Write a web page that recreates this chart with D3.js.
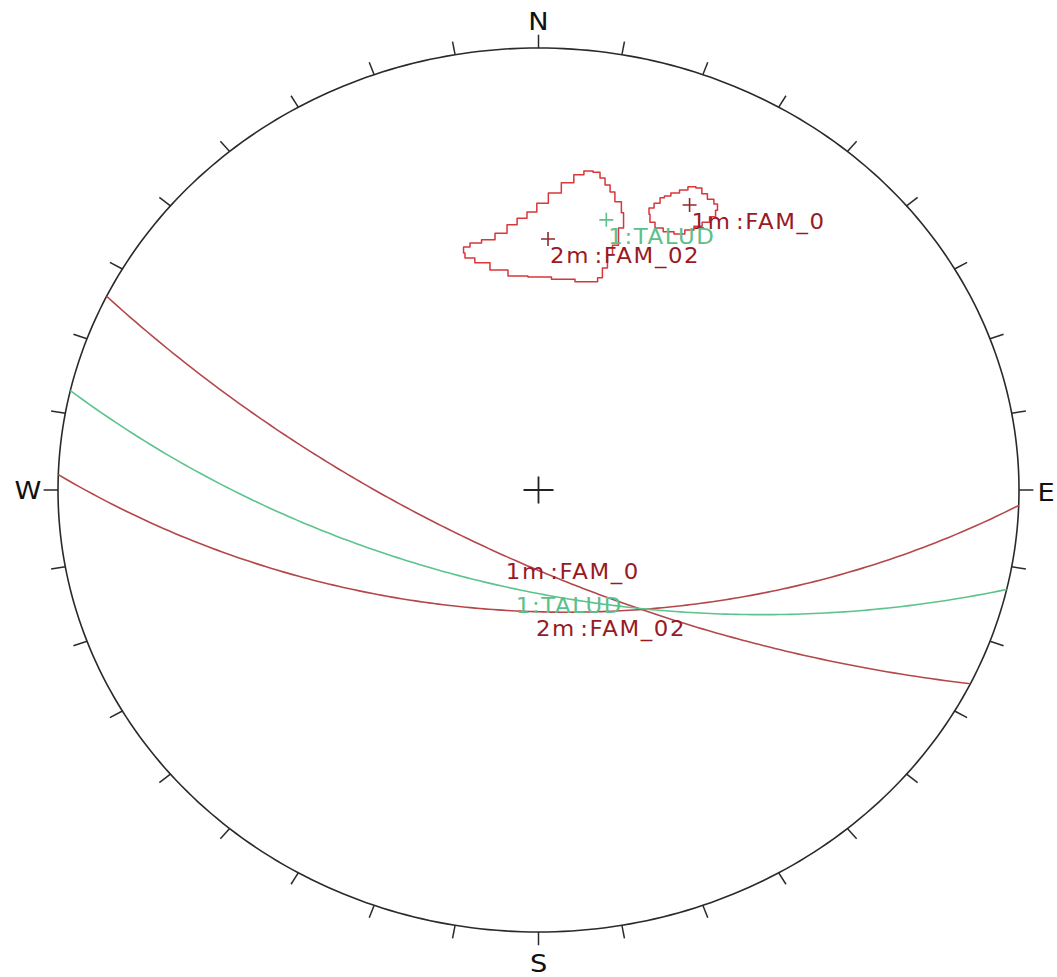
<!DOCTYPE html>
<html>
<head>
<meta charset="utf-8">
<script src="https://cdn.jsdelivr.net/npm/d3@7"></script>
<style>
  html, body { margin: 0; padding: 0; background: #fff; }
  svg { display: block; font-family: Verdana, "DejaVu Sans", sans-serif; }
</style>
</head>
<body>
<svg id="net" width="1057" height="977"></svg>
<script>
// Planes (dip direction / dip, degrees) plotted on a lower-hemisphere equal-angle net
const planeNames = ["1m:FAM_0", "2m:FAM_02", "1:TALUD"];
const planeDipDirections = [206, 182, 193];
const planeDips = [71.3, 59.2, 64.2];
const planeKinds = ["set", "set", "slope"];

// Density contours around the pole clusters, in projected net coordinates [x (E), y (N)]
const contourFam02 = [
  [0.103, 0.722], [0.124, 0.719], [0.132, 0.706], [0.145, 0.690], [0.153, 0.674],
  [0.165, 0.652], [0.180, 0.627], [0.174, 0.593], [0.159, 0.554], [0.149, 0.532],
  [0.138, 0.502], [0.128, 0.480], [0.118, 0.471], [0.097, 0.471], [0.055, 0.477],
  [-0.001, 0.482], [-0.043, 0.484], [-0.084, 0.498], [-0.118, 0.514], [-0.147, 0.525],
  [-0.159, 0.536], [-0.153, 0.550], [-0.132, 0.559], [-0.105, 0.566], [-0.076, 0.581],
  [-0.055, 0.600], [-0.034, 0.615], [-0.014, 0.629], [0.007, 0.649], [0.034, 0.672],
  [0.061, 0.695], [0.086, 0.713]
];
const contourFam0 = [
  [0.232, 0.638], [0.249, 0.649], [0.257, 0.661], [0.267, 0.665], [0.284, 0.672],
  [0.303, 0.679], [0.319, 0.686], [0.336, 0.683], [0.344, 0.670], [0.359, 0.658],
  [0.371, 0.647], [0.374, 0.633], [0.363, 0.618], [0.349, 0.606], [0.332, 0.597],
  [0.315, 0.588], [0.294, 0.579], [0.270, 0.584], [0.249, 0.593], [0.236, 0.606],
  [0.228, 0.624]
];

// Rim compass labels and tick interval
const cardinalLabels = ["N", "E", "S", "W"];
const cardinalAzimuths = [0, 90, 180, 270];
const tickAzimuths = d3.range(0, 360, 10);

const svg = d3.select("#net");
const cx = 538.5, cy = 490, rx = 480.5, ry = 442;
const sx = rx / ry;                       // horizontal stretch of the net
const x = d3.scaleLinear().domain([-1, 1]).range([cx - rx, cx + rx]);
const y = d3.scaleLinear().domain([-1, 1]).range([cy + ry, cy - ry]);

const rad = Math.PI / 180;
const colors = {
  set: { line: "#b4474a", text: "#981b24", pole: "#8e2a2e" },
  slope: { line: "#5cc38b", text: "#5cc08c", pole: "#5cc08c" }
};

// lower-hemisphere stereographic projection of a unit vector (E, N, Up)
function project(v) {
  const d = 1 - v[2];
  return [v[0] / d, v[1] / d];
}

function greatCircle(dd, dip) {
  const s = [Math.sin((dd - 90) * rad), Math.cos((dd - 90) * rad), 0];
  const dv = [Math.sin(dd * rad) * Math.cos(dip * rad), Math.cos(dd * rad) * Math.cos(dip * rad), -Math.sin(dip * rad)];
  return d3.range(0, 180.5, 1).map(t => {
    const c = Math.cos(t * rad), sn = Math.sin(t * rad);
    return project([c * s[0] + sn * dv[0], c * s[1] + sn * dv[1], c * s[2] + sn * dv[2]]);
  });
}
function dipPoint(dd, dip) {
  return project([Math.sin(dd * rad) * Math.cos(dip * rad), Math.cos(dd * rad) * Math.cos(dip * rad), -Math.sin(dip * rad)]);
}
function pole(dd, dip) {
  const t = (dd + 180) * rad;
  return project([Math.sin(t) * Math.sin(dip * rad), Math.cos(t) * Math.sin(dip * rad), -Math.cos(dip * rad)]);
}

const line = d3.line().x(d => x(d[0])).y(d => y(d[1]));

// primitive circle
svg.append("path")
  .attr("d", d3.line().x(d => x(d[0])).y(d => y(d[1])).curve(d3.curveLinearClosed)(
    d3.range(0, 360, 1).map(a => [Math.sin(a * rad), Math.cos(a * rad)])))
  .attr("fill", "none").attr("stroke", "#2a2a2a").attr("stroke-width", 1.6);

// ticks every 10 degrees
svg.append("g").selectAll("line").data(tickAzimuths).join("line")
  .attr("x1", a => x(Math.sin(a * rad)))
  .attr("y1", a => y(Math.cos(a * rad)))
  .attr("x2", a => x(1.03 * Math.sin(a * rad)))
  .attr("y2", a => y(1.03 * Math.cos(a * rad)))
  .attr("stroke", "#2a2a2a").attr("stroke-width", 1.5);

// compass labels
const labelOffset = [[0, -27], [27, 2], [0, 31], [-30, 0]];
svg.append("g").selectAll("text").data(cardinalLabels).join("text")
  .attr("transform", (d, i) => {
    const a = cardinalAzimuths[i] * rad;
    return `translate(${x(Math.sin(a)) + labelOffset[i][0]},${y(Math.cos(a)) + labelOffset[i][1]}) scale(${sx},1)`;
  })
  .attr("text-anchor", "middle").attr("dominant-baseline", "central")
  .attr("font-size", 25).attr("fill", "#111")
  .text(d => d);

// centre cross
svg.append("path")
  .attr("d", `M${x(0) - 15},${y(0)}H${x(0) + 15}M${x(0)},${y(0) - 13.5}V${y(0) + 13.5}`)
  .attr("stroke", "#222").attr("stroke-width", 1.8).attr("fill", "none");

// contours (grid-stepped outline)
[contourFam02, contourFam0].forEach(c => {
  svg.append("path")
    .attr("d", d3.line().x(d => x(d[0])).y(d => y(d[1])).curve(d3.curveStep)(c.concat([c[0]])))
    .attr("fill", "none").attr("stroke", "#d8363b").attr("stroke-width", 1.5)
    .attr("stroke-linejoin", "round");
});

// great circles
planeNames.forEach((name, i) => {
  const col = colors[planeKinds[i]];
  svg.append("path")
    .attr("d", line(greatCircle(planeDipDirections[i], planeDips[i])))
    .attr("fill", "none").attr("stroke", col.line).attr("stroke-width", 1.6);
});

function label(name, px, py, color) {
  const parts = name.split(":");
  const t = svg.append("text")
    .attr("transform", `translate(${px},${py}) scale(${sx},1)`)
    .attr("font-size", 21).attr("letter-spacing", 1.5).attr("fill", color);
  t.append("tspan").text(parts[0]);
  t.append("tspan").attr("dx", parts[0].endsWith("m") ? 4 : 0).text(":" + parts[1]);
}

// poles with labels, and great-circle labels at the dip point
planeNames.forEach((name, i) => {
  const col = colors[planeKinds[i]];
  const p = pole(planeDipDirections[i], planeDips[i]);
  const px = x(p[0]), py = y(p[1]);
  svg.append("path")
    .attr("d", `M${px - 7},${py}H${px + 7}M${px},${py - 7}V${py + 7}`)
    .attr("stroke", col.pole).attr("stroke-width", 1.6).attr("fill", "none");
  label(name, px + 2, py + 24, col.text);

  const dp = dipPoint(planeDipDirections[i], planeDips[i]);
  label(name, x(dp[0]) + 2, y(dp[1]) + 24, col.text);
});
</script>
</body>
</html>
